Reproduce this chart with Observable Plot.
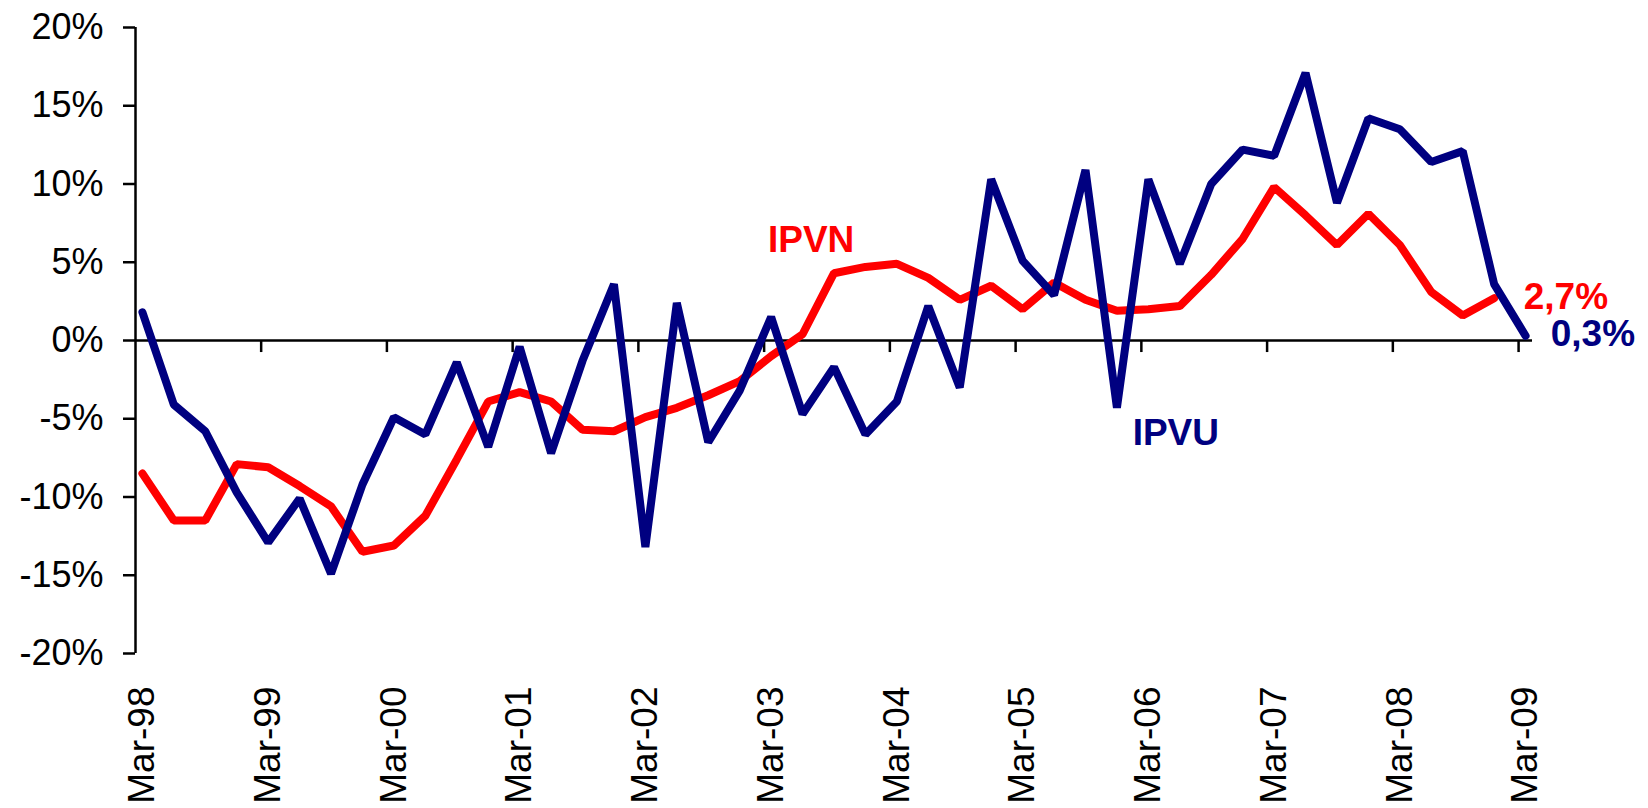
<!DOCTYPE html>
<html>
<head>
<meta charset="utf-8">
<script src="https://cdn.jsdelivr.net/npm/d3@7"></script>
<script src="https://cdn.jsdelivr.net/npm/@observablehq/plot@0.6"></script>
<style>
  html, body { margin: 0; padding: 0; background: #fff; }
  #chart svg { display: block; }
</style>
</head>
<body>
<div id="chart"></div>
<script>
// Quarterly series, Mar-98 .. Mar-09 (index = quarter number)
const ipvu = [1.8, -4.1, -5.8, -9.7, -12.9, -10.1, -14.9, -9.2, -4.9, -6.0, -1.4, -6.8, -0.4, -7.2, -1.3, 3.6,
  -13.2, 2.4, -6.5, -3.2, 1.5, -4.7, -1.7, -6.0, -3.9, 2.2, -3.0, 10.3, 5.1, 2.9, 10.9, -4.3,
  10.3, 4.9, 10.0, 12.2, 11.8, 17.1, 8.8, 14.2, 13.5, 11.4, 12.1, 3.6, 0.3];
const ipvn = [-8.5, -11.5, -11.5, -7.9, -8.1, -9.3, -10.6, -13.5, -13.1, -11.2, -7.6, -3.9, -3.3, -3.9, -5.7, -5.8,
  -4.9, -4.3, -3.5, -2.6, -1.0, 0.4, 4.3, 4.7, 4.9, 4.0, 2.6, 3.5, 2.0, 3.7, 2.6, 1.9,
  2.0, 2.2, 4.2, 6.5, 9.8, 8.0, 6.1, 8.1, 6.1, 3.1, 1.6, 2.7];
const xLabels = ["Mar-98", "Mar-99", "Mar-00", "Mar-01", "Mar-02", "Mar-03", "Mar-04", "Mar-05", "Mar-06", "Mar-07", "Mar-08", "Mar-09"];
const labelIdx = [0, 4, 8, 12, 16, 20, 24, 28, 32, 36, 40, 44];
const yTicks = [-20, -15, -10, -5, 0, 5, 10, 15, 20];
const seriesNames = ["IPVN", "IPVU"];
const seriesColors = ["#ff0000", "#000080"];
// annotation anchors (quarter index, value)
const nameLabels = [
  {text: "IPVN", i: 19.9, v: 6.4, color: 0},
  {text: "IPVU", i: 31.5, v: -5.9, color: 1}
];
const endLabels = [
  {text: "2,7%", i: 43.94, v: 2.8, color: 0},
  {text: "0,3%", i: 44.8, v: 0.42, color: 1}
];

const rows = [
  ...ipvn.map((v, i) => ({s: seriesNames[0], i, v})),
  ...ipvu.map((v, i) => ({s: seriesNames[1], i, v}))
];

const font = "'Liberation Sans', Arial, Helvetica, sans-serif";

const chart = Plot.plot({
  width: 1648,
  height: 808,
  marginLeft: 135,
  marginRight: 116,
  marginTop: 27,
  marginBottom: 155,
  style: {fontFamily: font, background: "#fff", color: "#000"},
  x: {domain: [-0.22, 44.22]},
  y: {domain: [-20, 20]},
  marks: [
    Plot.axisY({ticks: yTicks, tickFormat: d => d + "%", tickSize: 12, tickPadding: 20, fontSize: 36, strokeWidth: 2.5, label: null}),
    Plot.axisX({ticks: labelIdx, tickFormat: d => xLabels[labelIdx.indexOf(d)], tickRotate: -90, tickSize: 0, tickPadding: 33, fontSize: 37, label: null, anchor: "bottom"}),
    Plot.ruleX([-0.22], {y1: -20, y2: 20, stroke: "#000", strokeWidth: 2.5}),
    Plot.ruleY([0], {x1: -0.22, x2: 44.22, stroke: "#000", strokeWidth: 2.5}),
    Plot.ruleX(labelIdx.slice(1), {x: d => d, y1: 0, y2: -0.77, dx: -7, stroke: "#000", strokeWidth: 2.5}),
    Plot.line(rows, {x: "i", y: "v", z: "s", stroke: d => seriesColors[seriesNames.indexOf(d.s)], strokeWidth: 8, strokeLinejoin: "miter", strokeLinecap: "round"}),
    Plot.text(nameLabels, {x: "i", y: "v", text: "text", fill: d => seriesColors[d.color], fontSize: 37, fontWeight: "bold", textAnchor: "start"}),
    Plot.text(endLabels, {x: "i", y: "v", text: "text", fill: d => seriesColors[d.color], fontSize: 37, fontWeight: "bold", textAnchor: "start"})
  ]
});
document.getElementById("chart").appendChild(chart);
</script>
</body>
</html>
